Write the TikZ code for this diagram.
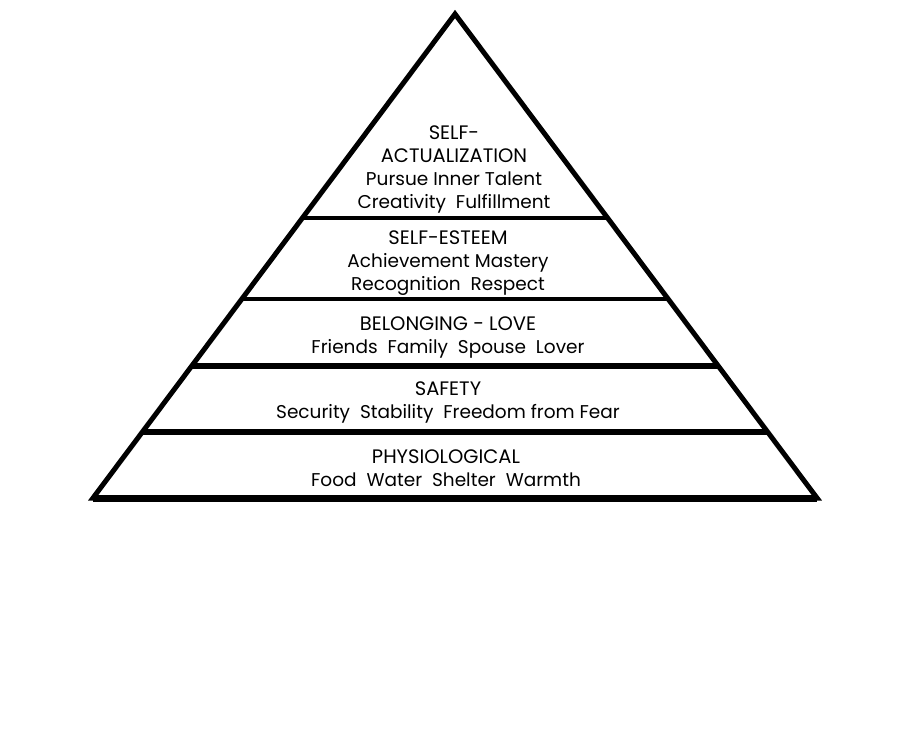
\documentclass[tikz,border=0pt]{standalone}
\usepackage{fontspec}
\setmainfont{Poppins}
\usetikzlibrary{calc}
\newcommand\capsz{\fontsize{19.5}{23}\selectfont}
\newcommand\lowsz{\fontsize{18.5}{23}\selectfont}
\begin{document}
\begin{tikzpicture}[x=1pt,y=-1pt,
  edge/.style={line width=5pt,line join=miter},
  band/.style={line width=#1,line cap=butt},
  lbl/.style={align=center,inner sep=0pt,font=\lowsz}]
\useasboundingbox[fill=white] (0,0) rectangle (900,730);
\coordinate (A) at (455,14);
\coordinate (L) at (93,498);
\coordinate (R) at (817,498);
% band dividers
\foreach \y/\w/\n in {218/4pt/a,299/4pt/b,366/6pt/c,432/6pt/d}{
  \pgfmathsetmacro{\t}{(\y-14)/484}
  \coordinate (l\n) at ($(A)!\t!(L)$);
  \coordinate (r\n) at ($(A)!\t!(R)$);
  \draw[band=\w] (l\n) -- (r\n);
}
\draw[edge] (A) -- (L) -- (R) -- cycle;
\draw[band=7pt] (L) -- (R);
\node[lbl] (sa) at (454,170) {\capsz SELF-\\\capsz ACTUALIZATION\\\lowsz Pursue Inner Talent\\\lowsz Creativity\ \ Fulfillment};
\node[lbl] (se) at (448,263) {\capsz SELF-ESTEEM\\\lowsz Achievement Mastery\\\lowsz Recognition\ \ Respect};
\node[lbl] (bl) at (448,338) {\capsz BELONGING - LOVE\\\lowsz Friends\ \ Family\ \ Spouse\ \ Lover};
\node[lbl] (sf) at (448,403) {\capsz SAFETY\\\lowsz Security\ \ Stability\ \ Freedom from Fear};
\node[lbl] (ph) at (446,468) {\capsz PHYSIOLOGICAL\\\lowsz Food\ \ Water\ \ Shelter\ \ Warmth};
\end{tikzpicture}
\end{document}
